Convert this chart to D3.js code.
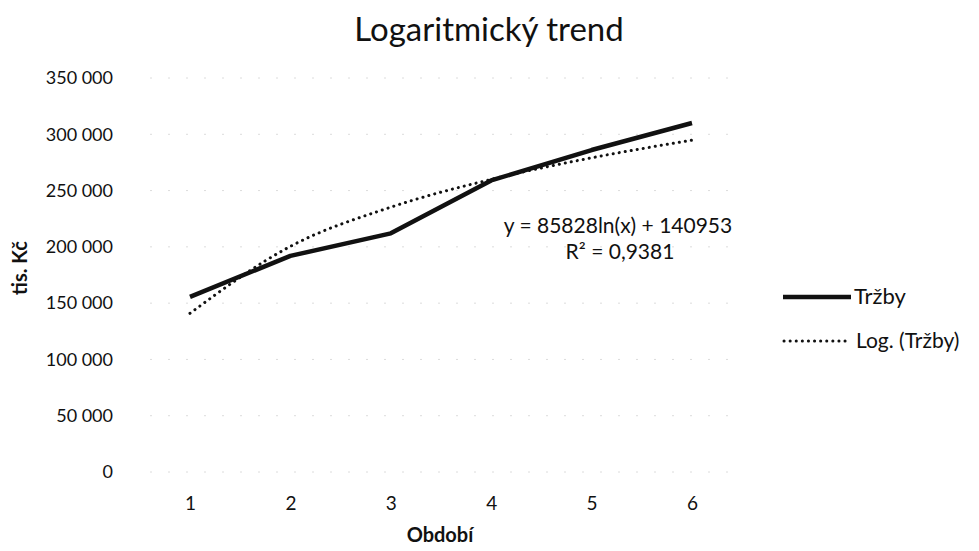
<!DOCTYPE html>
<html><head><meta charset="utf-8">
<script src="https://cdn.jsdelivr.net/npm/d3@7"></script>
<style>body{margin:0;background:#fff}svg{display:block}</style>
</head><body>
<script>
const periods = [1, 2, 3, 4, 5, 6];
const trzby = [155500, 192000, 212000, 259000, 286000, 310000];
const logTrend = [140950, 200440, 235240, 259930, 279090, 294740];
const yTicks = [0, 50000, 100000, 150000, 200000, 250000, 300000, 350000];
const title = "Logaritmický trend";
const yTitle = "tis. Kč";
const xTitle = "Období";
const seriesNames = ["Tržby", "Log. (Tržby)"];
const equation = ["y = 85828ln(x) + 140953", "R² = 0,9381"];

const W = 979, H = 551;
const font = "Lato, 'Open Sans', sans-serif";
const svg = d3.select("body").append("svg").attr("width", W).attr("height", H);

const x = d3.scaleLinear().domain([1, 6]).range([190, 692]);
const y = d3.scaleLinear().domain([0, 350000]).range([472, 78]);
const fmt = v => d3.format(",")(v).replace(/,/g, " ");

// gridlines (faint)
svg.append("g").selectAll("line").data(yTicks).join("line")
  .attr("x1", 150).attr("x2", 730)
  .attr("y1", d => y(d)).attr("y2", d => y(d))
  .attr("stroke", "#dcdcdc").attr("stroke-width", 1)
  .attr("stroke-dasharray", "2,16");

// y axis
const yAxis = svg.append("g").attr("transform", "translate(113,0)")
  .call(d3.axisLeft(y).tickValues(yTicks).tickSize(0).tickPadding(0).tickFormat(fmt));
yAxis.select(".domain").remove();
yAxis.selectAll("text").attr("font-family", font).attr("font-size", 18).attr("fill", "#111");

// x axis
const xAxis = svg.append("g").attr("transform", "translate(0,496)")
  .call(d3.axisBottom(x).tickValues(periods).tickSize(0).tickPadding(0).tickFormat(d3.format("d")));
xAxis.select(".domain").remove();
xAxis.selectAll("text").attr("font-family", font).attr("font-size", 19).attr("fill", "#111");

// trend line
const lineT = d3.line().x((d, i) => x(periods[i])).y(d => y(d)).curve(d3.curveMonotoneX);
svg.append("path").datum(logTrend).attr("d", lineT)
  .attr("fill", "none").attr("stroke", "#111").attr("stroke-width", 3)
  .attr("stroke-dasharray", "0.1,6").attr("stroke-linecap", "round");

// series line
const lineS = d3.line().x((d, i) => x(periods[i])).y(d => y(d));
svg.append("path").datum(trzby).attr("d", lineS)
  .attr("fill", "none").attr("stroke", "#111").attr("stroke-width", 4.5)
  .attr("stroke-linejoin", "round");

// equation
svg.append("text").attr("x", 618).attr("y", 233).attr("text-anchor", "middle")
  .attr("font-family", font).attr("font-size", 21).attr("fill", "#111").text(equation[0]);
svg.append("text").attr("x", 620).attr("y", 259).attr("text-anchor", "middle")
  .attr("font-family", font).attr("font-size", 21).attr("fill", "#111").text(equation[1]);

// title
svg.append("text").attr("x", 489).attr("y", 41).attr("text-anchor", "middle")
  .attr("font-family", font).attr("font-size", 33).attr("fill", "#111").text(title);

// axis titles
svg.append("text").attr("transform", "translate(27,268) rotate(-90)").attr("text-anchor", "middle")
  .attr("font-family", font).attr("font-size", 20).attr("font-weight", "bold").attr("fill", "#111").text(yTitle);
svg.append("text").attr("x", 440).attr("y", 542).attr("text-anchor", "middle")
  .attr("font-family", font).attr("font-size", 20).attr("font-weight", "bold").attr("fill", "#111").text(xTitle);

// legend
const lg = svg.append("g");
lg.append("line").attr("x1", 783).attr("x2", 851).attr("y1", 297).attr("y2", 297)
  .attr("stroke", "#111").attr("stroke-width", 4.5);
lg.append("text").attr("x", 854).attr("y", 304).attr("font-family", font).attr("font-size", 22)
  .attr("fill", "#111").text(seriesNames[0]);
lg.append("line").attr("x1", 784).attr("x2", 848).attr("y1", 341).attr("y2", 341)
  .attr("stroke", "#111").attr("stroke-width", 3).attr("stroke-dasharray", "0.1,6").attr("stroke-linecap", "round");
lg.append("text").attr("x", 856).attr("y", 348).attr("font-family", font).attr("font-size", 21)
  .attr("fill", "#111").text(seriesNames[1]);
</script>
</body></html>
